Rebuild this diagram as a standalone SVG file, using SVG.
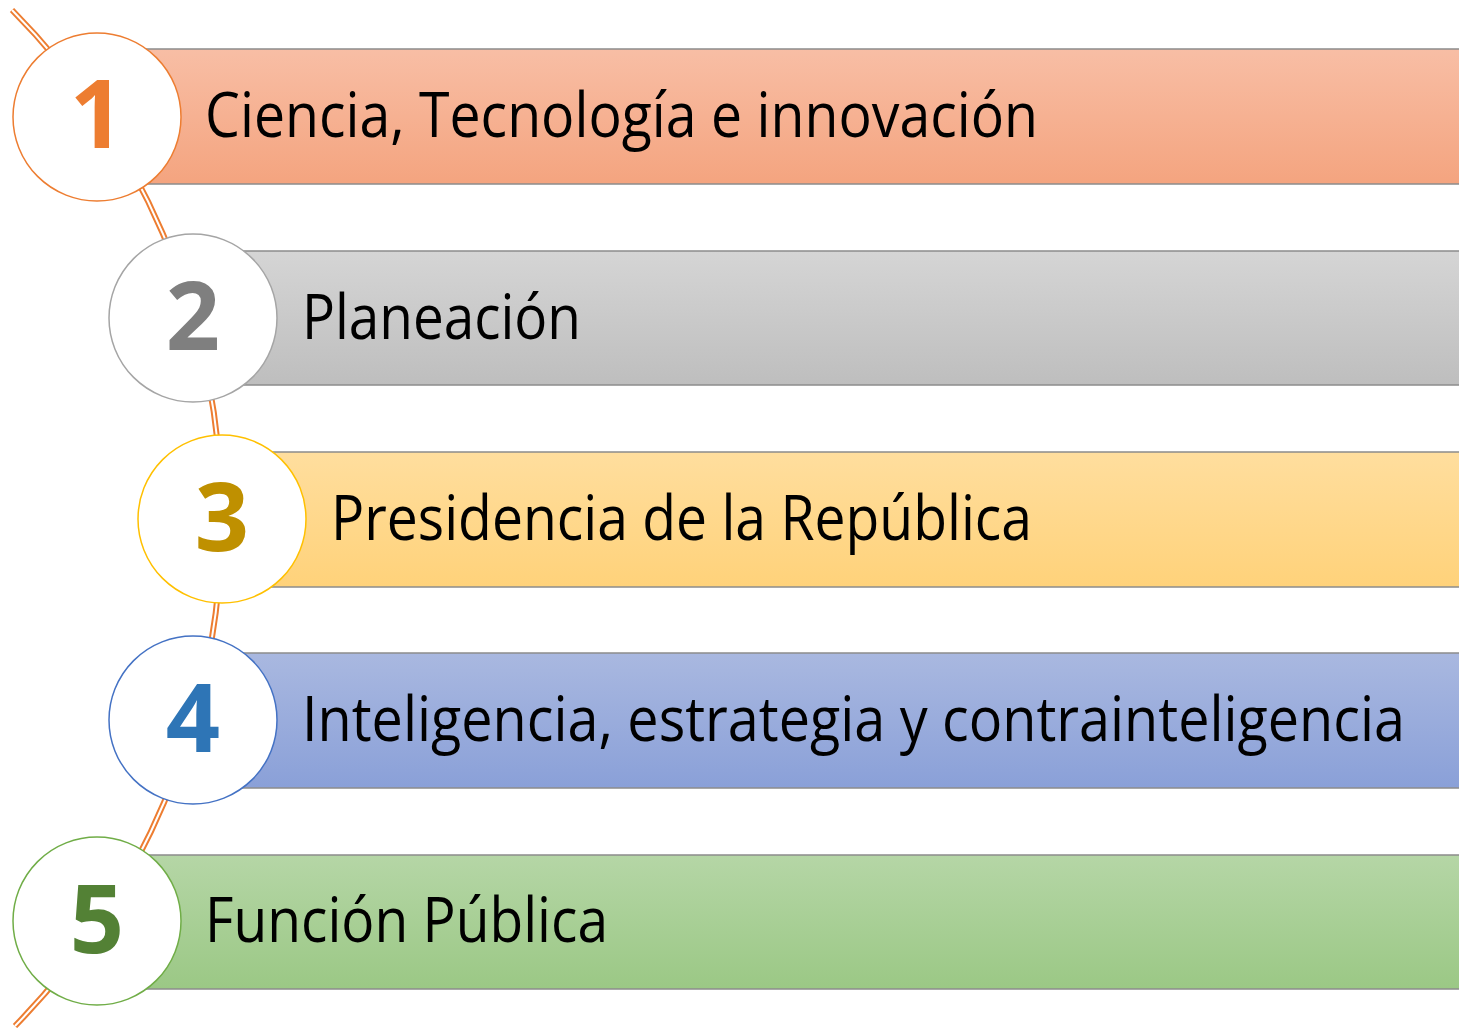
<svg xmlns="http://www.w3.org/2000/svg" width="1459" height="1028" viewBox="0 0 1459 1028">
<defs>
<linearGradient id="g1" x1="0" y1="0" x2="0" y2="1"><stop offset="0" stop-color="#F8BEA5"/><stop offset="1" stop-color="#F4A47F"/></linearGradient>
<linearGradient id="g2" x1="0" y1="0" x2="0" y2="1"><stop offset="0" stop-color="#D5D5D5"/><stop offset="1" stop-color="#BEBEBE"/></linearGradient>
<linearGradient id="g3" x1="0" y1="0" x2="0" y2="1"><stop offset="0" stop-color="#FFDE9E"/><stop offset="1" stop-color="#FFD27A"/></linearGradient>
<linearGradient id="g4" x1="0" y1="0" x2="0" y2="1"><stop offset="0" stop-color="#A9B8E0"/><stop offset="1" stop-color="#8AA0D8"/></linearGradient>
<linearGradient id="g5" x1="0" y1="0" x2="0" y2="1"><stop offset="0" stop-color="#B5D6A6"/><stop offset="1" stop-color="#9BC885"/></linearGradient>
</defs>
<style>
.bar{stroke:#8C8C8C;stroke-width:1.5}
.circ{fill:#FFFFFF;stroke-width:1.5}
.num{font-family:"Open Sans","Noto Sans",sans-serif;font-weight:bold;font-size:95px;text-anchor:middle}
.lbl{font-family:"Open Sans","Noto Sans",sans-serif;font-size:63px;fill:#000000}
</style>
<rect width="1459" height="1028" fill="#FFFFFF"/>
<g id="connectors">
<path d="M 12 10 A 724 724 0 0 1 15 1026" fill="none" stroke="#ED7D31" stroke-width="6"/>
<path d="M 12 10 A 724 724 0 0 1 15 1026" fill="none" stroke="#FFFFFF" stroke-width="2"/>
</g>
<g id="node1">
<rect class="bar" x="97" y="49" width="1370" height="135" fill="url(#g1)"/>
<circle class="circ" cx="97" cy="117" r="84" stroke="#ED7D31"/>
<text class="num" x="97" y="148" fill="#ED7D31">1</text>
<text class="lbl" x="205" y="137" textLength="833" lengthAdjust="spacingAndGlyphs">Ciencia, Tecnología e innovación</text>
</g>
<g id="node2">
<rect class="bar" x="193" y="251" width="1274" height="134" fill="url(#g2)"/>
<circle class="circ" cx="193" cy="318" r="84" stroke="#A5A5A5"/>
<text class="num" x="193" y="350" fill="#7F7F7F">2</text>
<text class="lbl" x="302" y="339" textLength="279" lengthAdjust="spacingAndGlyphs">Planeación</text>
</g>
<g id="node3">
<rect class="bar" x="222" y="452" width="1245" height="135" fill="url(#g3)"/>
<circle class="circ" cx="222" cy="519" r="84" stroke="#FFC000"/>
<text class="num" x="222" y="551" fill="#BF9000">3</text>
<text class="lbl" x="331" y="540" textLength="701" lengthAdjust="spacingAndGlyphs">Presidencia de la República</text>
</g>
<g id="node4">
<rect class="bar" x="193" y="653" width="1274" height="135" fill="url(#g4)"/>
<circle class="circ" cx="193" cy="720" r="84" stroke="#4472C4"/>
<text class="num" x="193" y="752" fill="#2E75B6">4</text>
<text class="lbl" x="302" y="741" textLength="1103" lengthAdjust="spacingAndGlyphs">Inteligencia, estrategia y contrainteligencia</text>
</g>
<g id="node5">
<rect class="bar" x="97" y="855" width="1370" height="134" fill="url(#g5)"/>
<circle class="circ" cx="97" cy="921" r="84" stroke="#70AD47"/>
<text class="num" x="97" y="953" fill="#538135">5</text>
<text class="lbl" x="205" y="942" textLength="403" lengthAdjust="spacingAndGlyphs">Función Pública</text>
</g>
</svg>
